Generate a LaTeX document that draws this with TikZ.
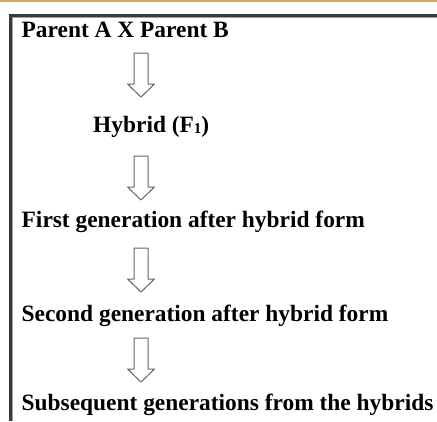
\documentclass[tikz,border=0pt]{standalone}
\usepackage{fontspec}
\setmainfont{Liberation Serif}
\definecolor{topline}{HTML}{D8A868}
\definecolor{framedark}{HTML}{3A3A3A}
\definecolor{framelight}{HTML}{A0A0A0}
\definecolor{arrgray}{HTML}{666666}
\tikzset{
  lbl/.style={anchor=base west, inner sep=0pt, font=\fontsize{23.4}{28}\selectfont\bfseries},
  arrline/.style={arrgray, line width=1pt, fill=white, line join=round}
}
\newcommand{\myblockarrow}[1]{%
  \draw[arrline] (#1) ++(-7,0) -- ++(14,0) -- ++(0,-31) -- ++(6.5,0)
    -- ++(-13.5,-13) -- ++(-13.5,13) -- ++(6.5,0) -- cycle;}
\begin{document}
\begin{tikzpicture}[x=1pt,y=1pt]
\useasboundingbox (0,0) rectangle (437,-421);
\fill[white] (0,0) rectangle (437,-421);
% top orange line
\fill[topline] (0,0) rectangle (437,-1.6);
% frame
\draw[framelight, line width=1.2pt] (437,-17.6) -- (12.6,-17.6) -- (12.6,-421);
\draw[framedark, line width=3pt] (437,-15.5) -- (10.5,-15.5) -- (10.5,-421);
% labels
\node[lbl] (p) at (21.5,-37) {Parent A X Parent B};
\node[lbl] (h) at (93,-132) {Hybrid (F\raisebox{-1.5pt}{\fontsize{15}{15}\selectfont 1})};
\node[lbl] (f1) at (21.5,-227) {First generation after hybrid form};
\node[lbl] (f2) at (21.5,-321) {Second generation after hybrid form};
\node[lbl] (fs) at (21.5,-410) {Subsequent generations from the hybrids};
% arrow anchors
\coordinate (a1) at (141,-53);
\coordinate (a2) at (141,-156);
\coordinate (a3) at (141,-248);
\coordinate (a4) at (141,-338);
\myblockarrow{a1}
\myblockarrow{a2}
\myblockarrow{a3}
\myblockarrow{a4}
\end{tikzpicture}
\end{document}
